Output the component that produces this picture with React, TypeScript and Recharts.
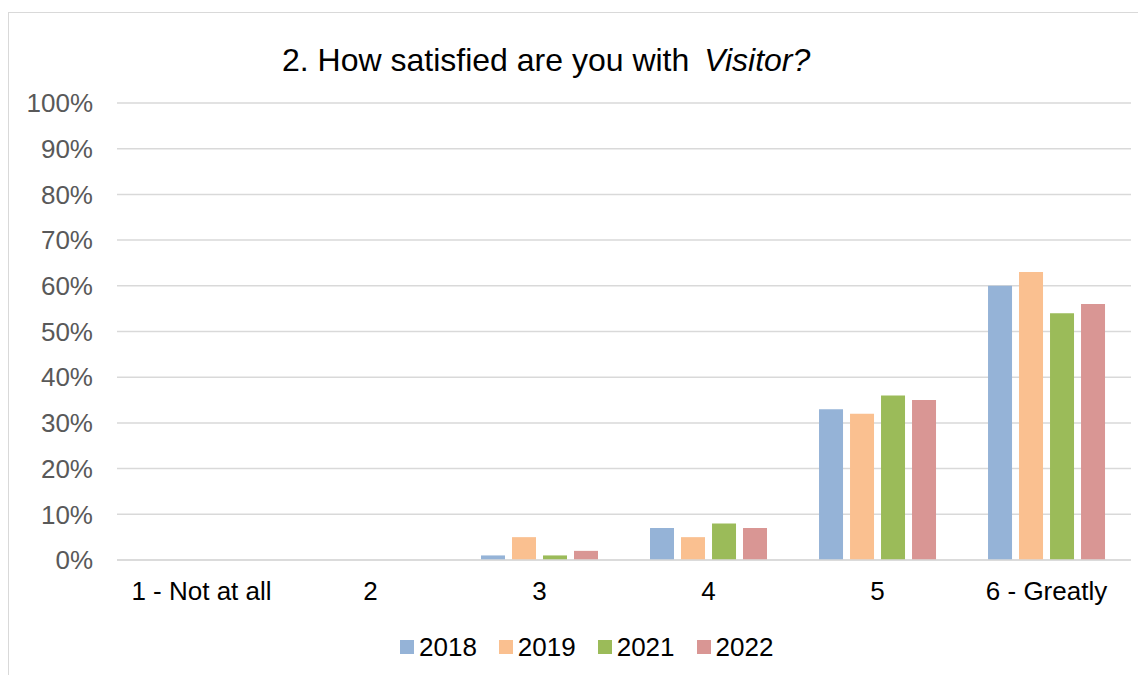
import { BarChart, Bar, XAxis, YAxis, CartesianGrid, Legend } from 'recharts'

const CATEGORIES = ['1 - Not at all', '2', '3', '4', '5', '6 - Greatly']
const YEARS = ['2018', '2019', '2021', '2022']
const V2018 = [0, 0, 1, 7, 33, 60]
const V2019 = [0, 0, 5, 5, 32, 63]
const V2021 = [0, 0, 1, 8, 36, 54]
const V2022 = [0, 0, 2, 7, 35, 56]
const Y_TICKS = [0, 10, 20, 30, 40, 50, 60, 70, 80, 90, 100]

const COLORS: Record<string, string> = {
  '2018': '#95B3D7',
  '2019': '#FAC090',
  '2021': '#9BBB59',
  '2022': '#D99694',
}

const FONT = '"Liberation Sans", Arial, sans-serif'

const data = CATEGORIES.map((name, i) => ({
  name,
  '2018': V2018[i],
  '2019': V2019[i],
  '2021': V2021[i],
  '2022': V2022[i],
}))

function YearLegend() {
  return (
    <div style={{
      height: 40,
      display: 'flex',
      alignItems: 'center',
      paddingLeft: 392,
      fontFamily: FONT,
      fontSize: 26,
      color: '#000',
    }}>
      {YEARS.map((y) => (
        <div key={y} style={{ display: 'flex', alignItems: 'center', marginRight: 22 }}>
          <span style={{ width: 14, height: 14, background: COLORS[y], marginRight: 5 }} />
          <span>{y}</span>
        </div>
      ))}
    </div>
  )
}

export default function App() {
  return (
    <div style={{ position: 'relative', width: 1138, height: 667, overflow: 'hidden', fontFamily: FONT }}>
      <div style={{
        position: 'absolute', left: 0, top: 4, width: 1200, height: 720,
        border: '1px solid #d9d9d9', boxSizing: 'border-box',
      }} />
      <div style={{
        position: 'absolute', left: 274, top: 36, fontSize: 32, lineHeight: '32px',
        color: '#000', whiteSpace: 'nowrap', zIndex: 1,
      }}>
        2. How satisfied are you with <span style={{ fontStyle: 'italic', marginLeft: 6 }}>Visitor?</span>
      </div>
      <div style={{ position: 'absolute', left: 0, top: 0 }}>
        <BarChart
          width={1138}
          height={667}
          data={data}
          margin={{ top: 95, right: 15, left: 0, bottom: 8 }}
          barCategoryGap="15.4%"
          barGap={7}
        >
          <CartesianGrid vertical={false} stroke="#d9d9d9" strokeWidth={1.5} />
          <XAxis
            dataKey="name"
            height={67}
            tickLine={false}
            tickSize={0}
            tickMargin={22}
            axisLine={{ stroke: '#d9d9d9', strokeWidth: 1.5 }}
            tick={{ fill: '#000', fontSize: 26, fontFamily: FONT }}
            interval={0}
          />
          <YAxis
            width={109}
            domain={[0, 100]}
            ticks={Y_TICKS}
            tickFormatter={(v) => `${v}%`}
            axisLine={false}
            tickLine={false}
            tickSize={0}
            tickMargin={24}
            tick={{ fill: '#595959', fontSize: 26, fontFamily: FONT }}
            interval={0}
          />
          <Legend verticalAlign="bottom" content={<YearLegend />} wrapperStyle={{ left: 0, width: 1138 }} />
          {YEARS.map((y) => (
            <Bar key={y} dataKey={y} fill={COLORS[y]} isAnimationActive={false} />
          ))}
        </BarChart>
      </div>
    </div>
  )
}
